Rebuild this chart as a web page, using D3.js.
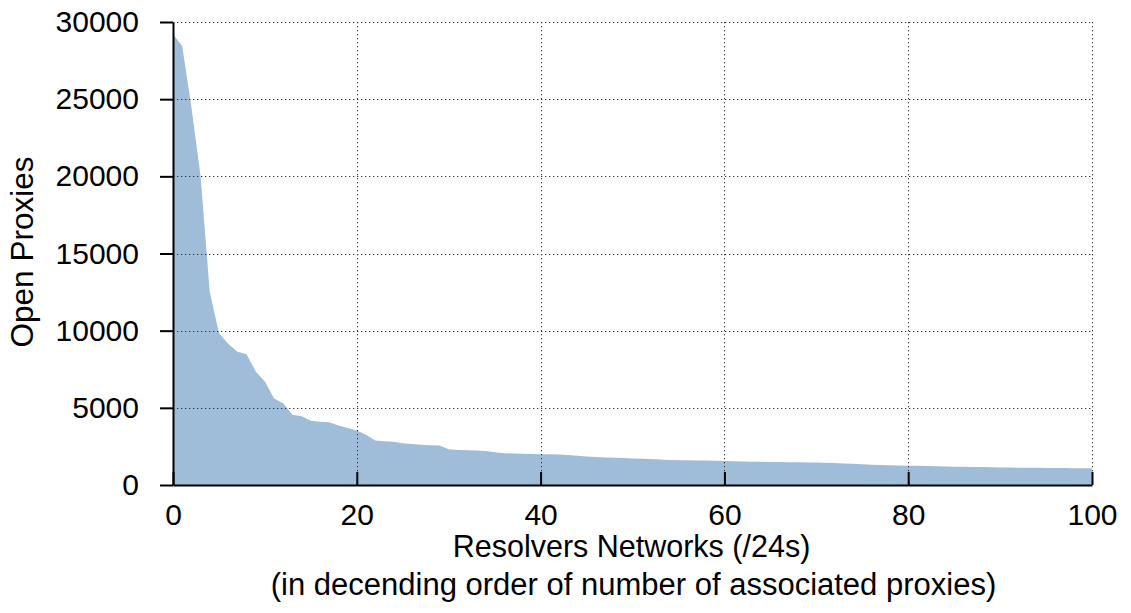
<!DOCTYPE html>
<html>
<head>
<meta charset="utf-8">
<script src="https://cdn.jsdelivr.net/npm/d3@7"></script>
<style>
  html, body { margin: 0; padding: 0; background: #fff; }
  svg { display: block; }
  text { font-family: "Liberation Sans", Arial, Helvetica, sans-serif; fill: #000; }
</style>
</head>
<body>
<svg id="chart" width="1131" height="613"></svg>
<script>
// Open proxies per resolver /24 network, ranked from most to least proxies
const networkRank = d3.range(0, 101);
const openProxies = [
  29200, 28450, 24500, 20000, 12500, 9850, 9150, 8630, 8480, 7350,
  6700, 5600, 5280, 4550, 4450, 4170, 4100, 4060, 3850, 3700,
  3530, 3250, 2880, 2830, 2800, 2700, 2650, 2610, 2580, 2560,
  2310, 2270, 2250, 2230, 2200, 2130, 2060, 2040, 2030, 2015,
  2000, 1990, 1970, 1940, 1900, 1850, 1810, 1785, 1765, 1745,
  1725, 1700, 1680, 1650, 1625, 1610, 1600, 1590, 1580, 1570,
  1555, 1540, 1525, 1510, 1500, 1490, 1485, 1480, 1470, 1460,
  1450, 1445, 1430, 1400, 1370, 1340, 1310, 1300, 1285, 1270,
  1250, 1240, 1230, 1215, 1200, 1190, 1180, 1170, 1160, 1150,
  1140, 1135, 1125, 1115, 1110, 1105, 1100, 1095, 1090, 1085,
  1080
];
const xTicks = [0, 20, 40, 60, 80, 100];
const yTicks = [0, 5000, 10000, 15000, 20000, 25000, 30000];

const xTitle = "Resolvers Networks (/24s)";
const xSubtitle = "(in decending order of number of associated proxies)";
const yTitle = "Open Proxies";

const svg = d3.select("#chart");
const plot = { left: 173, right: 1092, top: 22, bottom: 485 };

const x = d3.scaleLinear().domain([0, 100]).range([plot.left, plot.right]);
const y = d3.scaleLinear().domain([0, 30000]).range([plot.bottom, plot.top]);

const data = networkRank.map((r, i) => ({ r, v: openProxies[i] }));

// filled area
svg.append("path")
  .datum(data)
  .attr("fill", "#9fbcd8")
  .attr("d", d3.area().x(d => x(d.r)).y0(y(0)).y1(d => y(d.v)));

// dotted grid
const grid = svg.append("g").attr("stroke", "#333").attr("stroke-width", 1)
  .attr("stroke-dasharray", "1.3,2.7").attr("fill", "none");
grid.selectAll(".gy").data(yTicks.filter(t => t > 0)).join("line")
  .attr("x1", plot.left).attr("x2", plot.right)
  .attr("y1", d => Math.round(y(d)) + 0.5).attr("y2", d => Math.round(y(d)) + 0.5);
grid.selectAll(".gx").data(xTicks.filter(t => t > 0)).join("line")
  .attr("y1", plot.top).attr("y2", plot.bottom)
  .attr("x1", d => Math.round(x(d)) + 0.5).attr("x2", d => Math.round(x(d)) + 0.5);

const fmt = d3.format("d");

// y axis: ticks point outward
const yAxis = svg.append("g")
  .attr("transform", `translate(${plot.left},0)`)
  .call(d3.axisLeft(y).tickValues(yTicks).tickFormat(fmt).tickSize(13).tickPadding(21).tickSizeOuter(0));
yAxis.select(".domain").attr("stroke", "#000").attr("stroke-width", 2);
yAxis.selectAll(".tick line").attr("stroke", "#000").attr("stroke-width", 2);
yAxis.selectAll(".tick text").attr("font-size", 30).attr("fill", "#000")
  .attr("font-family", "Liberation Sans, Arial, sans-serif");

// x axis: ticks point inward
const xAxis = svg.append("g")
  .attr("transform", `translate(0,${plot.bottom})`)
  .call(d3.axisBottom(x).tickValues(xTicks).tickFormat(fmt).tickSize(-13).tickPadding(0).tickSizeOuter(0));
xAxis.select(".domain").attr("stroke", "#000").attr("stroke-width", 2);
xAxis.selectAll(".tick line").attr("stroke", "#000").attr("stroke-width", 2);
xAxis.selectAll(".tick text").attr("font-size", 30).attr("fill", "#000")
  .attr("y", 19).attr("dy", "0.71em")
  .attr("font-family", "Liberation Sans, Arial, sans-serif");

// axis titles
svg.append("text")
  .attr("x", (plot.left + plot.right) / 2 - 1)
  .attr("y", 557)
  .attr("text-anchor", "middle")
  .attr("font-size", 30.5)
  .text(xTitle);
svg.append("text")
  .attr("x", (plot.left + plot.right) / 2 + 1)
  .attr("y", 595)
  .attr("text-anchor", "middle")
  .attr("font-size", 31)
  .text(xSubtitle);
svg.append("text")
  .attr("transform", `translate(33,252) rotate(-90)`)
  .attr("text-anchor", "middle")
  .attr("font-size", 31.5)
  .text(yTitle);
</script>
</body>
</html>
